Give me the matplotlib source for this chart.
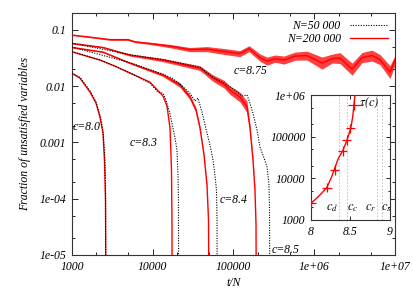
import matplotlib
matplotlib.use('Agg')
import matplotlib.pyplot as plt
from matplotlib.lines import Line2D
import numpy as np

plt.rcParams['font.family'] = 'Liberation Serif'
plt.rcParams['font.style'] = 'italic'
plt.rcParams['mathtext.fontset'] = 'stix'
plt.rcParams['font.size'] = 8

RED = '#ff0000'

# ---- main panel: fraction of unsatisfied variables vs t/N ----
# c = 8.75 (N=200 000), centre of noisy band + band half-width factor
t_875 = [1000, 1670, 2960, 4930, 6030, 9250, 16400, 28900, 47000, 78500, 120000, 156000, 213000, 260000,
         327000, 422000, 578000, 813000, 1.25e6, 1.66e6, 2.08e6, 2.94e6, 3.9e6, 5.19e6, 6.52e6, 8.67e6, 1e7]
f_875 = [0.081, 0.0745, 0.0673, 0.0673, 0.0615, 0.0575, 0.0516, 0.0447, 0.0456, 0.0412, 0.0379, 0.0465, 0.0322,
         0.0279, 0.0309, 0.0291, 0.0342, 0.0350, 0.0257, 0.0309, 0.0316, 0.0201, 0.0322, 0.0350, 0.0297, 0.0178, 0.0291]
s_875 = [1.02, 1.025, 1.03, 1.035, 1.035, 1.045, 1.07, 1.09, 1.11, 1.13, 1.13, 1.13, 1.16, 1.18, 1.16, 1.18,
         1.18, 1.2, 1.28, 1.2, 1.25, 1.28, 1.23, 1.25, 1.23, 1.3, 1.22]

# c = 8.5
t_85_big = [1000, 2421, 5224, 13400, 38460, 55720, 76210, 90570, 120200, 146900, 160000, 174200, 184600, 190100, 191600]
f_85_big = [0.0575, 0.0489, 0.0356, 0.0291, 0.0209, 0.0139, 0.0109, 0.0085, 0.0064, 0.0043, 0.0018, 0.00049,
            0.00014, 3.4e-5, 1e-6]
s_85_big = [1.02, 1.025, 1.04, 1.07, 1.1, 1.14, 1.17, 1.19, 1.22, 1.26, 1.18, 1.1, 1.06, 1.03, 1.03]
t_85_small = [1000, 5224, 13400, 38460, 55720, 76210, 104400, 127500, 146900, 160000, 174200, 195400, 212800,
              238600, 260000, 275200, 279100, 283100]
f_85_small = [0.0582, 0.0364, 0.0297, 0.0218, 0.0145, 0.01135, 0.0085, 0.00667, 0.0070, 0.0050, 0.0033, 0.00166,
              0.00083, 0.00053, 0.00037, 0.000175, 6.3e-5, 1e-6]

# c = 8.4
t_84_big = [1000, 2421, 5224, 13400, 21730, 28900, 34320, 38460, 43120, 46990, 49020, 49770]
f_84_big = [0.0489, 0.0404, 0.0257, 0.01575, 0.0105, 0.0064, 0.00376, 0.0018, 0.0006, 0.000175, 4.2e-5, 1e-6]
s_84_big = [1.02, 1.025, 1.03, 1.06, 1.1, 1.1, 1.1, 1.08, 1.06, 1.04, 1.03, 1.03]
t_84_small = [1000, 5224, 13400, 17310, 21730, 28900, 33370, 36300, 40720, 46990, 51170, 55720, 59000, 61590,
              62520, 62830]
f_84_small = [0.0495, 0.0262, 0.0164, 0.0139, 0.0109, 0.0075, 0.00544, 0.00615, 0.00347, 0.00147, 0.0009,
              0.00049, 0.00026, 0.00014, 4.2e-5, 1e-6]

# c = 8.3
t_83_big = [1000, 2223, 3404, 5224, 9247, 13400, 15000, 16370, 17060, 17300, 17400]
f_83_big = [0.0408, 0.0291, 0.0228, 0.0171, 0.0118, 0.00667, 0.00444, 0.0018, 0.00032, 4.2e-5, 1e-6]
t_83_small = [1000, 2223, 5224, 9247, 11620, 13400, 14590, 16370, 18880, 19950, 20560, 20840, 20950]
f_83_small = [0.0412, 0.0293, 0.0173, 0.0113, 0.00785, 0.0075, 0.0057, 0.00319, 0.0012, 0.00073, 0.00026,
              9.5e-5, 1e-6]

# c = 8.0
t_80_big = [1000, 1256, 1671, 1982, 2223, 2421, 2523, 2600, 2636]
f_80_big = [0.0169, 0.0139, 0.00785, 0.0050, 0.00282, 0.00147, 0.00049, 9.5e-5, 1e-6]
t_80_small = [1000, 1256, 1671, 1982, 2223, 2421, 2540, 2600, 2620]
f_80_small = [0.0172, 0.0143, 0.0083, 0.0053, 0.0030, 0.0016, 0.0006, 0.0002, 1e-6]

curve_labels = ['c=8.0', 'c=8.3', 'c=8.4', 'c=8.5', 'c=8.75']
label_t = [1030, 5224, 68100, 300000, 101400]
label_f = [0.00188, 0.00098, 9.5e-5, 1.23e-5, 0.0185]

x_ticks = [1e3, 1e4, 1e5, 1e6, 1e7]
x_ticklabels = ['1000', '10000', '100000', '1e+06', '1e+07']
y_ticks = [1e-5, 1e-4, 1e-3, 1e-2, 1e-1]
y_ticklabels = ['1e-05', '1e-04', '0.001', '0.01', '0.1']

# ---- inset: relaxation time tau(c) ----
c_pts = [8.0, 8.2, 8.3, 8.4, 8.45, 8.5, 8.55]
tau_pts = [2500, 6000, 16000, 45000, 83000, 158000, 580000]
c_err = [0.06, 0.06, 0.06, 0.06, 0.06, 0.06, 0.085]
c_fit = [8.0, 8.114, 8.199, 8.262, 8.295, 8.346, 8.401, 8.456, 8.503, 8.528, 8.557]
tau_fit = [2510, 3980, 5960, 10900, 16400, 30200, 45200, 82800, 158000, 300000, 1e6]
c_marks = [8.35, 8.46, 8.83, 8.9]
c_mark_labels = ['$c_d$', '$c_c$', '$c_r$', '$c_s$']
c_mark_label_x = [8.265, 8.525, 8.76, 8.95]


fig = plt.figure(figsize=(4.14, 2.90), dpi=100)
ax = fig.add_axes([0.1739, 0.1207, 0.7802, 0.8345])

dots = (0, (1, 1.3))
bands = [(t_875, f_875, s_875), (t_85_big, f_85_big, s_85_big), (t_84_big, f_84_big, s_84_big)]
for t, f, s in bands:
    t, f, s = np.array(t), np.array(f), np.array(s)
    ax.fill_between(t, f / s, f * s, color=RED, alpha=0.75, lw=0, zorder=2)
for t, f in [(t_875, f_875), (t_85_big, f_85_big), (t_84_big, f_84_big), (t_83_big, f_83_big), (t_80_big, f_80_big)]:
    ax.plot(t, f, color=RED, lw=1.0, zorder=3)
for t, f in [(t_85_small, f_85_small), (t_84_small, f_84_small), (t_83_small, f_83_small), (t_80_small, f_80_small)]:
    ax.plot(t, f, color='black', lw=0.8, ls=dots, zorder=4)

for lab, tx, fy in zip(curve_labels, label_t, label_f):
    ax.text(tx, fy, lab, fontsize=8.5, va='center', ha='left', zorder=5)

ax.set_xscale('log')
ax.set_yscale('log')
ax.set_xlim(1e3, 1e7)
ax.set_ylim(1e-5, 0.2)
ax.set_xticks(x_ticks)
ax.set_xticklabels(x_ticklabels)
ax.set_yticks(y_ticks)
ax.set_yticklabels(y_ticklabels)
ax.xaxis.set_minor_locator(matplotlib.ticker.LogLocator(base=10, subs=(2, 5)))
ax.yaxis.set_minor_locator(matplotlib.ticker.LogLocator(base=10, subs=(2, 5)))
ax.xaxis.set_minor_formatter(matplotlib.ticker.NullFormatter())
ax.yaxis.set_minor_formatter(matplotlib.ticker.NullFormatter())
ax.tick_params(which='both', direction='in', top=True, right=True, labelsize=8.5, pad=4)
ax.tick_params(which='major', length=4, width=0.6)
ax.tick_params(which='minor', length=2, width=0.6)
for sp in ax.spines.values():
    sp.set_linewidth(0.8)
    sp.set_color('#333333')
ax.set_xlabel('t/N', fontsize=8.5, labelpad=3)
ax.set_ylabel('Fraction of unsatisfied variables', fontsize=8.5, labelpad=6)

handles = [Line2D([], [], color='black', lw=0.8, ls=dots), Line2D([], [], color=RED, lw=1.0)]
ax.legend(handles, ['N=50 000', 'N=200 000'], loc='upper right', frameon=False, markerfirst=False,
          handlelength=3.2, fontsize=8.5, borderaxespad=0.2, labelspacing=0.1, handletextpad=0.8)

# inset
ins = fig.add_axes([0.7512, 0.2414, 0.1908, 0.431])
ins.set_facecolor('white')
for cm in c_marks:
    ins.axvline(cm, color='#bbbbbb', lw=0.6, ls=(0, (2, 2)), zorder=1)
ins.plot(c_fit, tau_fit, color=RED, lw=1.0, zorder=3)
yerr_lo = [v - v / 1.3 for v in tau_pts]
yerr_hi = [v * 1.3 - v for v in tau_pts]
ins.errorbar(c_pts, tau_pts, xerr=c_err, yerr=[yerr_lo, yerr_hi], fmt='none', ecolor=RED, elinewidth=0.9,
             capsize=0, zorder=3, clip_on=True)
for lab, cx in zip(c_mark_labels, c_mark_label_x):
    ins.text(cx, 1900, lab, fontsize=9, ha='center', va='center')
ins.text(8.61, 680000, r'$\tau(c)$', fontsize=9, ha='left', va='center')
ins.set_yscale('log')
ins.set_xlim(8, 9)
ins.set_ylim(1000, 1e6)
ins.set_xticks([8, 8.5, 9])
ins.set_xticklabels(['8', '8.5', '9'])
ins.set_yticks([1e3, 1e4, 1e5, 1e6])
ins.set_yticklabels(['1000', '10000', '100000', '1e+06'])
ins.yaxis.set_minor_locator(matplotlib.ticker.LogLocator(base=10, subs=(2, 5)))
ins.yaxis.set_minor_formatter(matplotlib.ticker.NullFormatter())
ins.tick_params(which='both', direction='in', top=True, right=True, labelsize=8.5, pad=4)
ins.tick_params(which='major', length=3, width=0.6)
ins.tick_params(which='minor', length=1.5, width=0.6)
for sp in ins.spines.values():
    sp.set_linewidth(0.8)
    sp.set_color('#333333')

fig.savefig('out.png', dpi=100)
